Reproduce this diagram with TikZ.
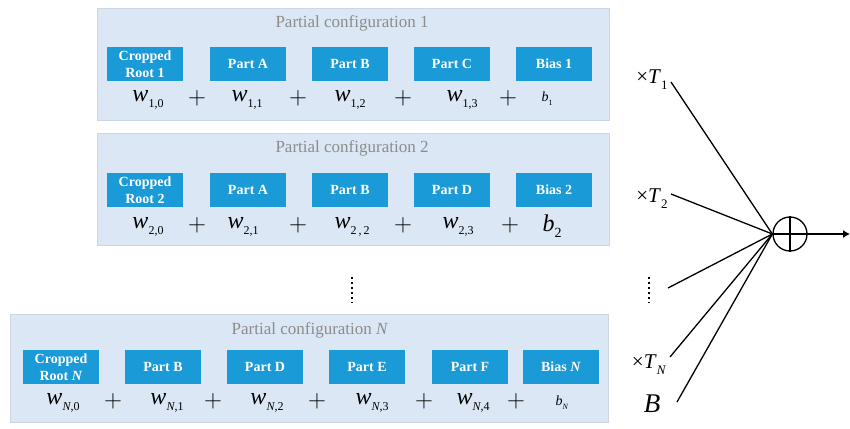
\documentclass[tikz,border=0pt]{standalone}
\usepackage{fontspec}
\setmainfont{Liberation Serif}
\usepackage{tikz}
\usetikzlibrary{arrows.meta}

\definecolor{panelblue}{RGB}{219,231,244}
\definecolor{partblue}{RGB}{26,154,214}
\definecolor{titlegray}{RGB}{140,140,140}

\newcommand{\wsub}[1]{\textit{w}\raisebox{-6pt}{\fontsize{12}{14}\selectfont #1}}
\newcommand{\bsub}[1]{\textit{b}\raisebox{-4pt}{\fontsize{8}{10}\selectfont #1}}
\newcommand{\tsub}[1]{×\textit{T}\raisebox{-6pt}{\fontsize{13}{15}\selectfont #1}}

\begin{document}
\begin{tikzpicture}[x=1pt,y=-1pt,
  panel/.style={fill=panelblue,draw=panelblue!85!gray,line width=0.6pt},
  part/.style={fill=partblue,text=white,minimum width=76,minimum height=34,inner sep=0,
    align=center,font=\fontsize{14}{17}\selectfont\bfseries},
  ptitle/.style={text=titlegray,font=\fontsize{17}{20}\selectfont},
  term/.style={font=\fontsize{24}{28}\selectfont,inner sep=0},
  smallterm/.style={font=\fontsize{14}{16}\selectfont,inner sep=0},
  plus/.style={font=\fontsize{26}{28}\selectfont,inner sep=0},
  tlabel/.style={font=\fontsize{21}{24}\selectfont,inner sep=0},
  wire/.style={line width=1.3pt}]
\useasboundingbox (0,0) rectangle (850,428);

% the three panels
\draw [panel] (97,8) rectangle (609,120);
\draw [panel] (97,133) rectangle (609,245);
\draw [panel] (10,314) rectangle (608,422);

% configuration 1
\node [ptitle] (title1) at (352,23) {Partial configuration 1};
\node [part] (root1) at (145,64) {Cropped\\Root 1};
\node [part] (a1) at (248,64) {Part A};
\node [part] (b1) at (350,64) {Part B};
\node [part] (c1) at (452,64) {Part C};
\node [part] (bias1) at (554,64) {Bias 1};
\node [term] (w10) at (148,100) {\wsub{1,0}};
\node [plus] (p11) at (197,98) {$+$};
\node [term] (w11) at (247,100) {\wsub{1,1}};
\node [plus] (p12) at (298,98) {$+$};
\node [term] (w12) at (350,100) {\wsub{1,2}};
\node [plus] (p13) at (403,98) {$+$};
\node [term] (w13) at (462,100) {\wsub{1,3}};
\node [plus] (p14) at (508,98) {$+$};
\node [smallterm] (bb1) at (547,99) {\bsub{1}};

% configuration 2
\node [ptitle] (title2) at (352,148) {Partial configuration 2};
\node [part] (root2) at (145,190) {Cropped\\Root 2};
\node [part] (a2) at (248,190) {Part A};
\node [part] (b2) at (350,190) {Part B};
\node [part] (d2) at (452,190) {Part D};
\node [part] (bias2) at (554,190) {Bias 2};
\node [term] (w20) at (148,227) {\wsub{2,0}};
\node [plus] (p21) at (197,225) {$+$};
\node [term] (w21) at (243,227) {\wsub{2,1}};
\node [plus] (p22) at (298,225) {$+$};
\node [term] (w22) at (352,227) {\wsub{2\,,\,2}};
\node [plus] (p23) at (403,225) {$+$};
\node [term] (w23) at (458,227) {\wsub{2,3}};
\node [plus] (p24) at (510,225) {$+$};
\node [term] (bb2) at (552,226) {\textit{b}\raisebox{-6pt}{\fontsize{14}{16}\selectfont 2}};

% the omitted configurations
\draw [line width=2pt,dash pattern=on 2pt off 3pt] (352,277)--(352,303);

% configuration N
\node [ptitle] (titleN) at (310,330) {Partial configuration \textit{N}};
\node [part] (rootN) at (61,367) {Cropped\\Root \textit{N}};
\node [part] (bN) at (163,367) {Part B};
\node [part] (dN) at (265,367) {Part D};
\node [part] (eN) at (367,367) {Part E};
\node [part] (fN) at (470,367) {Part F};
\node [part] (biasN) at (561,367) {Bias \textit{N}};
\node [term] (wN0) at (63,403) {\wsub{\textit{N},0}};
\node [plus] (pN1) at (113,401) {$+$};
\node [term] (wN1) at (167,403) {\wsub{\textit{N},1}};
\node [plus] (pN2) at (213,401) {$+$};
\node [term] (wN2) at (267,403) {\wsub{\textit{N},2}};
\node [plus] (pN3) at (317,401) {$+$};
\node [term] (wN3) at (372,403) {\wsub{\textit{N},3}};
\node [plus] (pN4) at (424,401) {$+$};
\node [term] (wN4) at (473,403) {\wsub{\textit{N},4}};
\node [plus] (pN5) at (516,401) {$+$};
\node [smallterm] (bbN) at (562,403) {\bsub{\textit{N}}};

% weighted sum on the right
\node [draw,circle,line width=1.3pt,minimum size=34,inner sep=0] (sum) at (790,234) {};
\draw [line width=1.3pt] (sum.north)--(sum.south);
\draw [line width=1.3pt] (sum.west)--(sum.east);
\node [tlabel] (t1) at (652,80) {\tsub{1}};
\node [tlabel] (t2) at (652,199) {\tsub{2}};
\node [tlabel] (tN) at (649,365) {\tsub{\textit{N}}};
\node [font=\fontsize{27}{30}\selectfont\itshape,inner sep=0] (bias) at (652,404) {B};
\draw [line width=2pt,dash pattern=on 2pt off 3pt] (649,277)--(649,303);
\coordinate (in1) at (671,82);
\coordinate (in2) at (671,194);
\coordinate (in3) at (668,288);
\coordinate (in4) at (670,357);
\coordinate (in5) at (677,402);
\coordinate (out) at (850,234);
\draw [wire] (in1)--(sum.west);
\draw [wire] (in2)--(sum.west);
\draw [wire] (in3)--(sum.west);
\draw [wire] (in4)--(sum.west);
\draw [wire] (in5)--(sum.west);
\draw [wire,-{Latex[length=7pt,width=8pt]}] (sum.east)--(out);

\end{tikzpicture}
\end{document}
